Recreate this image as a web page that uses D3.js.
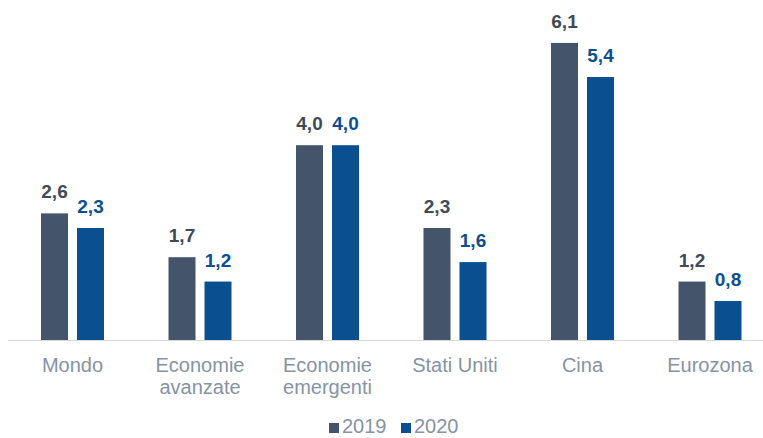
<!DOCTYPE html>
<html>
<head>
<meta charset="utf-8">
<script src="https://cdn.jsdelivr.net/npm/d3@7"></script>
<style>
  html, body { margin: 0; padding: 0; background: #ffffff; }
  svg { display: block; font-family: "Liberation Sans", Arial, sans-serif; }
</style>
</head>
<body>
<svg id="chart" width="763" height="438"></svg>
<script>
// Crescita del PIL (%) per area
const categories = [["Mondo"], ["Economie", "avanzate"], ["Economie", "emergenti"], ["Stati Uniti"], ["Cina"], ["Eurozona"]];
const seriesNames = ["2019", "2020"];
const values2019 = [2.6, 1.7, 4.0, 2.3, 6.1, 1.2];
const values2020 = [2.3, 1.2, 4.0, 1.6, 5.4, 0.8];
const seriesValues = [values2019, values2020];

const barColors = ["#44546A", "#0A4F8F"];
const labelColors = ["#404A56", "#0A4F8F"];
const axisTextColor = "#8593A5";

const svg = d3.select("#chart");
const baseY = 340;

const x0 = d3.scaleBand()
  .domain(d3.range(categories.length))
  .range([8.75, 773.75])
  .padding(0);

const groupW = 63;
const x1 = d3.scaleBand()
  .domain(seriesNames)
  .range([x0.bandwidth() / 2 - groupW / 2, x0.bandwidth() / 2 + groupW / 2])
  .paddingInner(0.25)
  .paddingOuter(0);

const y = d3.scaleLinear()
  .domain([0, 7])
  .range([baseY, baseY - 7 * 48.7]);

const fmt = v => d3.format(".1f")(v).replace(".", ",");

const data = categories.map((c, i) => ({
  i,
  lines: c,
  vals: seriesNames.map((s, k) => ({ s, k, v: seriesValues[k][i] }))
}));

// Category axis baseline
svg.append("line")
  .attr("x1", 8).attr("x2", 763)
  .attr("y1", baseY + 0.5).attr("y2", baseY + 0.5)
  .attr("stroke", "#D9D9D9").attr("stroke-width", 1.2);

const groups = svg.append("g").selectAll("g")
  .data(data)
  .join("g")
  .attr("transform", d => `translate(${x0(d.i)},0)`);

groups.selectAll("rect")
  .data(d => d.vals)
  .join("rect")
  .attr("x", d => x1(d.s))
  .attr("width", x1.bandwidth())
  .attr("y", d => y(d.v))
  .attr("height", d => y(0) - y(d.v))
  .attr("fill", d => barColors[d.k]);

groups.selectAll("text.val")
  .data(d => d.vals)
  .join("text")
  .attr("class", "val")
  .attr("x", d => x1(d.s) + x1.bandwidth() / 2)
  .attr("y", d => y(d.v) - 15)
  .attr("text-anchor", "middle")
  .attr("font-size", 19)
  .attr("font-weight", "bold")
  .attr("fill", d => labelColors[d.k])
  .text(d => fmt(d.v));

// Category labels (one or two lines)
groups.append("text")
  .attr("text-anchor", "middle")
  .attr("font-size", 20)
  .attr("fill", axisTextColor)
  .selectAll("tspan")
  .data(d => d.lines)
  .join("tspan")
  .attr("x", x0.bandwidth() / 2)
  .attr("y", (d, j) => 372 + j * 22)
  .text(d => d);

// Legend
const legend = svg.append("g");
const legendItems = [
  { name: seriesNames[0], color: barColors[0], x: 329 },
  { name: seriesNames[1], color: barColors[1], x: 401 }
];
legend.selectAll("rect")
  .data(legendItems)
  .join("rect")
  .attr("x", d => d.x)
  .attr("y", 423)
  .attr("width", 10)
  .attr("height", 10)
  .attr("fill", d => d.color);
legend.selectAll("text")
  .data(legendItems)
  .join("text")
  .attr("x", d => d.x + 13)
  .attr("y", 433)
  .attr("font-size", 20)
  .attr("fill", axisTextColor)
  .text(d => d.name);
</script>
</body>
</html>
